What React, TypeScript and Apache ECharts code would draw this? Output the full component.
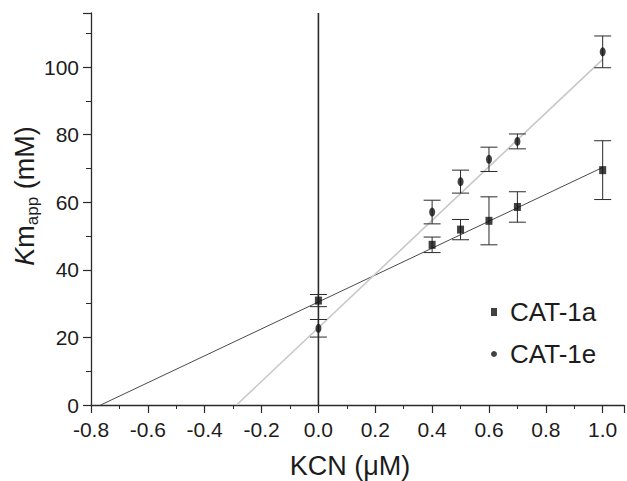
import React, { useEffect, useRef } from "react";
import * as echarts from "echarts";

// KCN concentrations (µM)
const kcn = [0, 0.4, 0.5, 0.6, 0.7, 1.0];
// Km app (mM)
const cat1a = [30.9, 47.4, 51.9, 54.5, 58.6, 69.5];
const cat1aErr = [1.8, 2.3, 3.0, 7.1, 4.5, 8.7];
const cat1e = [22.7, 57.1, 66.1, 72.7, 78.0, 104.5];
const cat1eErr = [2.6, 3.5, 3.4, 3.6, 2.2, 4.7];
// linear fits (endpoints)
const fitAX = [-0.766, 1.0];
const fitAY = [0, 70.3];
const fitEX = [-0.288, 1.0];
const fitEY = [0, 102.3];
const vLineX = [0, 0];
const vLineY = [0, 116];

const FONT = "'Liberation Sans', Arial, sans-serif";
const TXT = "#1c1c1c";

function errData(ys: number[], es: number[]) {
  return kcn.map((x, i) => [x, ys[i], ys[i] - es[i], ys[i] + es[i]]);
}

function errSeries(ys: number[], es: number[]) {
  return {
    type: "custom",
    silent: true,
    z: 3,
    data: errData(ys, es),
    encode: { x: 0, y: [1, 2, 3] },
    renderItem: (params: any, api: any) => {
      const x = api.value(0);
      const lo = api.coord([x, api.value(2)]);
      const hi = api.coord([x, api.value(3)]);
      const hw = 8.5;
      const style = { stroke: "#2a2a2a", lineWidth: 1 };
      return {
        type: "group",
        children: [
          { type: "line", shape: { x1: lo[0], y1: lo[1], x2: hi[0], y2: hi[1] }, style },
          { type: "line", shape: { x1: hi[0] - hw, y1: hi[1], x2: hi[0] + hw, y2: hi[1] }, style },
          { type: "line", shape: { x1: lo[0] - hw, y1: lo[1], x2: lo[0] + hw, y2: lo[1] }, style },
        ],
      };
    },
  };
}

const zip = (a: number[], b: number[]) => a.map((v, i) => [v, b[i]]);

export default function App() {
  const ref = useRef<HTMLDivElement>(null);
  useEffect(() => {
    if (!ref.current) return;
    const chart = echarts.init(ref.current, undefined, { renderer: "svg" });
    chart.setOption({
      animation: false,
      backgroundColor: "#ffffff",
      grid: { left: 91, top: 13, right: 0, bottom: 76, containLabel: false },
      xAxis: {
        type: "value",
        min: -0.8,
        max: 1.075,
        interval: 0.2,
        splitLine: { show: false },
        axisLine: { onZero: false, lineStyle: { color: "#2a2a2a", width: 1.3 } },
        axisTick: { inside: false, length: 8, lineStyle: { color: "#2a2a2a", width: 1.2 } },
        minorTick: { show: true, splitNumber: 2, length: 4, lineStyle: { color: "#2a2a2a", width: 1 } },
        axisLabel: {
          margin: 14,
          fontFamily: FONT,
          fontSize: 21,
          color: TXT,
          formatter: (v: number) => {
            const r = Math.round(v * 10) / 10;
            if (Math.abs(v * 5 - Math.round(v * 5)) > 1e-6) return "";
            return r.toFixed(1);
          },
        },
      },
      yAxis: {
        type: "value",
        min: 0,
        max: 116,
        interval: 20,
        splitLine: { show: false },
        axisLine: { show: true, onZero: false, lineStyle: { color: "#2a2a2a", width: 1.3 } },
        axisTick: { show: true, inside: false, length: 8, lineStyle: { color: "#2a2a2a", width: 1.2 } },
        minorTick: { show: true, splitNumber: 2, length: 5, lineStyle: { color: "#2a2a2a", width: 1 } },
        axisLabel: {
          margin: 12,
          fontFamily: FONT,
          fontSize: 21,
          color: TXT,
          formatter: (v: number) => (v % 20 === 0 ? String(v) : ""),
        },
      },
      legend: {
        orient: "vertical",
        left: 486,
        top: 292,
        itemGap: 12,
        itemWidth: 6,
        itemHeight: 8,
        textStyle: { fontFamily: FONT, fontSize: 26, lineHeight: 30, color: TXT, padding: [0, 0, 0, 8] },
        data: [
          { name: "CAT-1a", icon: "rect" },
          { name: "CAT-1e", icon: "circle" },
        ],
      },
      graphic: [
        {
          type: "text",
          x: 25,
          y: 196,
          rotation: Math.PI / 2,
          style: {
            text: "{k|K}{m|m}{s|app}{n| (mM)}",
            align: "center",
            verticalAlign: "middle",
            fill: TXT,
            rich: {
              k: { fontFamily: FONT, fontSize: 27, fontStyle: "italic", lineHeight: 32, verticalAlign: "middle", fill: TXT },
              m: { fontFamily: FONT, fontSize: 27, lineHeight: 32, verticalAlign: "middle", fill: TXT },
              s: { fontFamily: FONT, fontSize: 17, lineHeight: 15, verticalAlign: "bottom", fill: TXT },
              n: { fontFamily: FONT, fontSize: 27, lineHeight: 32, verticalAlign: "middle", fill: TXT },
            },
          },
        },
        {
          type: "text",
          x: 350,
          y: 466,
          style: {
            text: "KCN (\u03bcM)",
            align: "center",
            verticalAlign: "middle",
            fontFamily: FONT,
            fontSize: 27,
            fill: TXT,
          },
        },
      ],
      series: [
        {
          type: "line",
          name: "vline",
          data: zip(vLineX, vLineY),
          symbol: "none",
          silent: true,
          z: 1,
          lineStyle: { color: "#2a2a2a", width: 1.6 },
        },
        {
          type: "line",
          name: "fitA",
          data: zip(fitAX, fitAY),
          symbol: "none",
          silent: true,
          z: 2,
          lineStyle: { color: "#4a4a4a", width: 1 },
        },
        {
          type: "line",
          name: "fitE",
          data: zip(fitEX, fitEY),
          symbol: "none",
          silent: true,
          z: 2,
          lineStyle: { color: "#c8c8c8", width: 1.6 },
        },
        errSeries(cat1a, cat1aErr),
        errSeries(cat1e, cat1eErr),
        {
          type: "scatter",
          name: "CAT-1a",
          data: zip(kcn, cat1a),
          symbol: "rect",
          symbolSize: [7, 8],
          z: 5,
          itemStyle: { color: "#111111" },
        },
        {
          type: "scatter",
          name: "CAT-1e",
          data: zip(kcn, cat1e),
          symbol: "circle",
          symbolSize: [6, 9],
          z: 5,
          itemStyle: { color: "#111111" },
        },
      ],
    });
    return () => chart.dispose();
  }, []);
  return (
    <div
      ref={ref}
      style={{ position: "fixed", left: 0, top: 0, width: 627, height: 481, background: "#fff" }}
    />
  );
}
